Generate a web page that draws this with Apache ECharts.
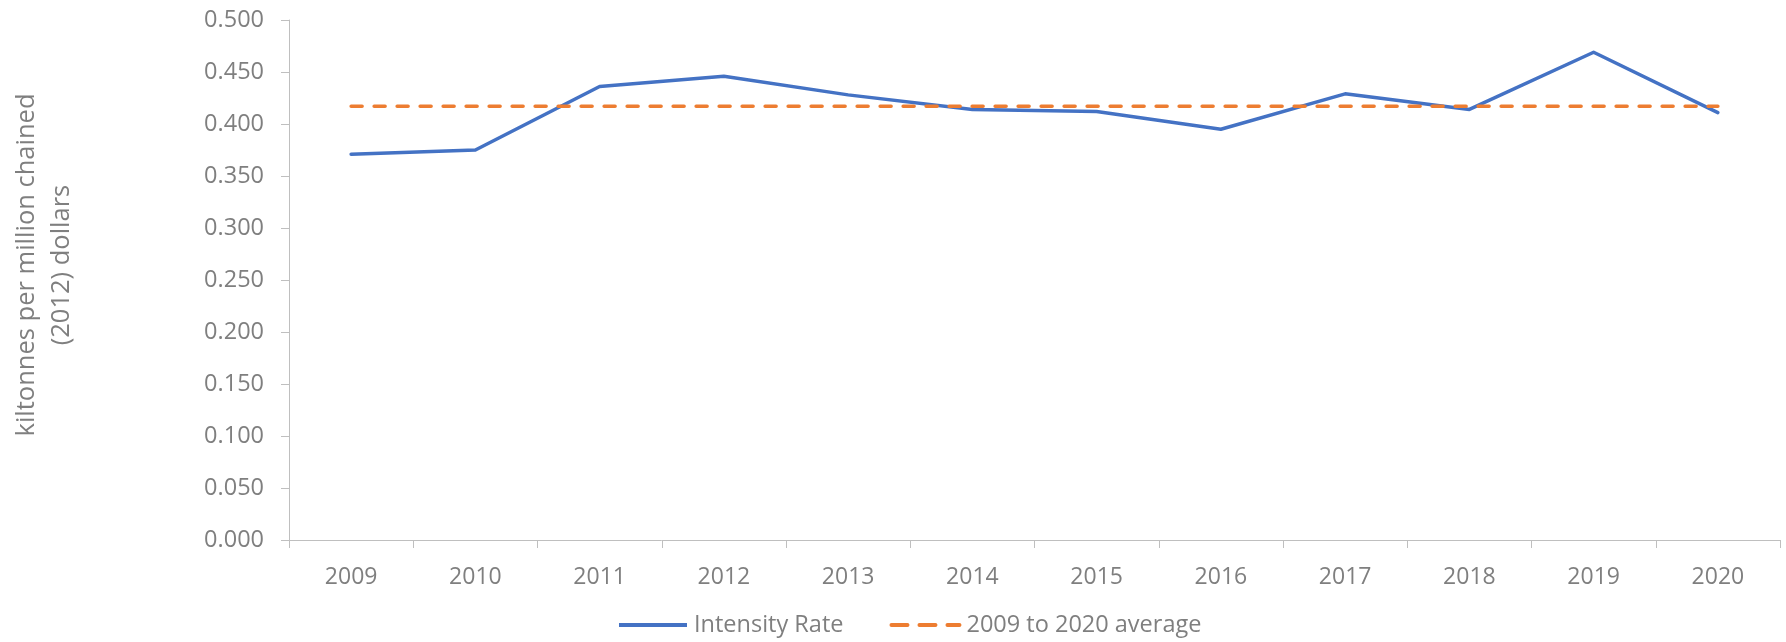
<!DOCTYPE html>
<html>
<head>
    <meta charset="utf-8">
    <title></title>
    <script src="https://cdn.jsdelivr.net/npm/echarts@6/dist/echarts.min.js"></script>
    <style>
        body{ margin: 0; background: #fff; }
        #chart{ width: 1786px; height: 642px; }
    </style>
</head>
<body>
<div id="chart"></div>
<script>
    // chart data
    var years = ['2009','2010','2011','2012','2013','2014','2015','2016','2017','2018','2019','2020'];
    var intensityRate = [0.371, 0.375, 0.436, 0.446, 0.428, 0.414, 0.412, 0.395, 0.429, 0.414, 0.469, 0.411];
    var averageValue = 0.417;
    var averageLine = years.map(function () { return averageValue; });
    var yTicks = { min: 0, max: 0.5, interval: 0.05 };

    var gray = '#7f7f7f';
    var font = '"Open Sans", "Liberation Sans", sans-serif';

    var chart = echarts.init(document.getElementById('chart'));
    chart.setOption({
        animation: false,
        textStyle: { fontFamily: font },
        grid: { left: 289, right: 6, top: 20, bottom: 102, outerBoundsMode: 'none', containLabel: false },
        legend: {
            bottom: 0,
            left: 614,
            itemWidth: 68,
            itemHeight: 4,
            itemGap: 46,
            textStyle: { color: gray, fontSize: 23.5, fontFamily: font, padding: [0, 0, 0, 2] },
            data: [
                { name: 'Intensity Rate', icon: 'rect' },
                { name: '2009 to 2020 average', lineStyle: { type: [16, 12], cap: 'round', width: 4 } }
            ]
        },
        xAxis: {
            type: 'category',
            data: years,
            boundaryGap: true,
            axisLine: { lineStyle: { color: '#bfbfbf', width: 1 } },
            axisTick: { show: true, length: 8, interval: 0, lineStyle: { color: '#bfbfbf' } },
            axisLabel: { color: gray, fontSize: 23, margin: 26 }
        },
        yAxis: {
            type: 'value',
            min: yTicks.min,
            max: yTicks.max,
            interval: yTicks.interval,
            name: 'kiltonnes per million chained\n(2012) dollars',
            nameLocation: 'middle',
            nameRotate: 90,
            nameGap: 210,
            nameTextStyle: { color: gray, fontSize: 25.5, lineHeight: 35, padding: [0, 0, 0, 30] },
            axisLine: { show: true, lineStyle: { color: '#bfbfbf', width: 1 } },
            axisTick: { show: true, length: 8, inside: false, lineStyle: { color: '#bfbfbf' } },
            splitLine: { show: false },
            axisLabel: {
                color: gray,
                fontSize: 23.5,
                margin: 25,
                formatter: function (v) { return v.toFixed(3); }
            }
        },
        series: [
            {
                name: 'Intensity Rate',
                type: 'line',
                data: intensityRate,
                symbol: 'none',
                color: '#4472c4',
                lineStyle: { color: '#4472c4', width: 3.5, cap: 'round', join: 'round' }
            },
            {
                name: '2009 to 2020 average',
                type: 'line',
                data: averageLine,
                symbol: 'none',
                color: '#ed7d31',
                lineStyle: { color: '#ed7d31', width: 3.5, type: [11, 12], cap: 'round' }
            }
        ]
    });
</script>
</body>
</html>
